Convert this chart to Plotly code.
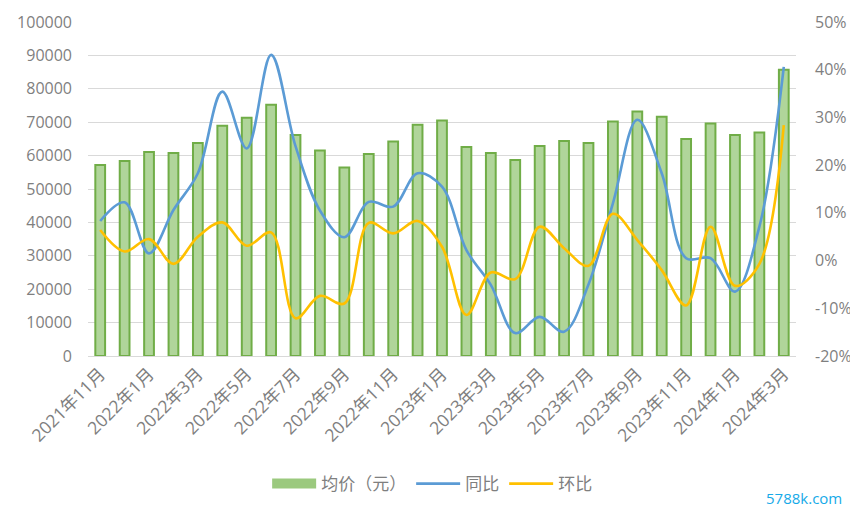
import plotly.graph_objects as go

months = ["2021年11月", "2021年12月",
          "2022年1月", "2022年2月", "2022年3月", "2022年4月", "2022年5月", "2022年6月",
          "2022年7月", "2022年8月", "2022年9月", "2022年10月", "2022年11月", "2022年12月",
          "2023年1月", "2023年2月", "2023年3月", "2023年4月", "2023年5月", "2023年6月",
          "2023年7月", "2023年8月", "2023年9月", "2023年10月", "2023年11月", "2023年12月",
          "2024年1月", "2024年2月", "2024年3月"]

avg_price = [57200, 58400, 61100, 60800, 63800, 68900, 71300, 75200, 66200, 61500,
             56400, 60500, 64200, 69200, 70500, 62600, 60800, 58700, 62900, 64400,
             63800, 70200, 73200, 71600, 65000, 69600, 66200, 66900, 85700]

yoy = [8.3, 12.2, 1.5, 10.6, 18.3, 35.4, 23.5, 43.1, 24.0, 10.5,
       4.9, 12.3, 11.3, 18.3, 15.5, 2.2, -5.1, -15.2, -11.8, -14.9,
       -5.0, 12.0, 29.5, 18.3, 0.5, 0.5, -6.5, 7.1, 40.6]

mom = [6.4, 1.9, 4.5, -0.7, 5.0, 8.0, 3.1, 5.9, -12.1, -7.4,
       -9.0, 7.9, 5.7, 8.3, 2.9, -11.4, -2.5, -3.9, 7.1, 2.6,
       -1.1, 9.8, 4.3, -2.0, -9.4, 7.1, -5.3, -0.7, 28.4]

left_ticks = [0, 10000, 20000, 30000, 40000, 50000, 60000, 70000, 80000, 90000, 100000]
left_ticktext = [str(v) for v in left_ticks]
right_ticks = [-20, -10, 0, 10, 20, 30, 40, 50]
right_ticktext = ["-20%", "-10%", "0%", "10%", "20%", "30%", "40%", "50%"]

label_idx = list(range(0, len(months), 2))
x_idx = list(range(len(months)))

FONT = "Open Sans, Noto Sans CJK SC, sans-serif"
GRAY = "#7f7f7f"

fig = go.Figure()
fig.add_trace(go.Bar(
    x=x_idx, y=avg_price, name="均价（元）", showlegend=False,
    marker=dict(color="#b0d59a", line=dict(color="#70ad47", width=2)),
    width=0.40, yaxis="y"))
# legend entry for the bars (wide rectangle like the reference)
fig.add_trace(go.Scatter(
    x=[None], y=[None], name="均价（元）", mode="lines",
    line=dict(color="#9bc97e", width=10), yaxis="y"))
fig.add_trace(go.Scatter(
    x=x_idx, y=yoy, name="同比", mode="lines",
    line=dict(color="#5b9bd5", width=2.6, shape="spline", smoothing=1.0),
    yaxis="y2"))
fig.add_trace(go.Scatter(
    x=x_idx, y=mom, name="环比", mode="lines",
    line=dict(color="#ffc000", width=2.6, shape="spline", smoothing=1.0),
    yaxis="y2"))

fig.update_layout(
    width=850, height=507,
    margin=dict(l=80, r=62, t=14, b=159),
    paper_bgcolor="white", plot_bgcolor="white",
    font=dict(family=FONT, size=16, color=GRAY),
    showlegend=True,
    legend=dict(orientation="h", xref="container", yref="container",
                x=0.499, xanchor="center", y=0.061, yanchor="middle",
                font=dict(size=17, color=GRAY), itemwidth=44,
                traceorder="normal"),
    xaxis=dict(range=[-0.5, len(months) - 0.5], tickmode="array",
               tickvals=label_idx, ticktext=[months[i] for i in label_idx],
               tickangle=-45, ticks="", showgrid=False, automargin=False,
               showline=True, linecolor="#d9d9d9", linewidth=1,
               tickfont=dict(size=17.5, color=GRAY), zeroline=False),
    xaxis2=dict(range=[-0.5, len(months) - 0.5], overlaying="x", anchor="y",
                tickmode="array", tickvals=[i - 0.5 for i in label_idx] + [len(months) - 0.5],
                showticklabels=False, ticks="outside", ticklen=6, tickcolor="#d9d9d9",
                showgrid=False, showline=False, zeroline=False, automargin=False),
    yaxis=dict(range=[0, 100000], tickmode="array", tickvals=left_ticks,
               ticktext=left_ticktext, automargin=False,
               showgrid=True, gridcolor="#d9d9d9", gridwidth=1, zeroline=False,
               showline=False, ticks="", ticklabelstandoff=15,
               tickfont=dict(size=16, color=GRAY)),
    yaxis2=dict(range=[-20, 50], overlaying="y", side="right", tickmode="array",
                tickvals=right_ticks, ticktext=right_ticktext, showgrid=False,
                automargin=False,
                zeroline=False, showline=False, ticks="", ticklabelstandoff=18,
                tickfont=dict(size=16, color=GRAY)),
    bargap=0.6,
    annotations=[dict(text="5788k.com", xref="paper", yref="paper",
                      x=1.011, y=-0.425, xanchor="center", yanchor="middle",
                      showarrow=False, font=dict(size=15, color="#16aae8", family=FONT))],
)

fig.write_html("out.html")
